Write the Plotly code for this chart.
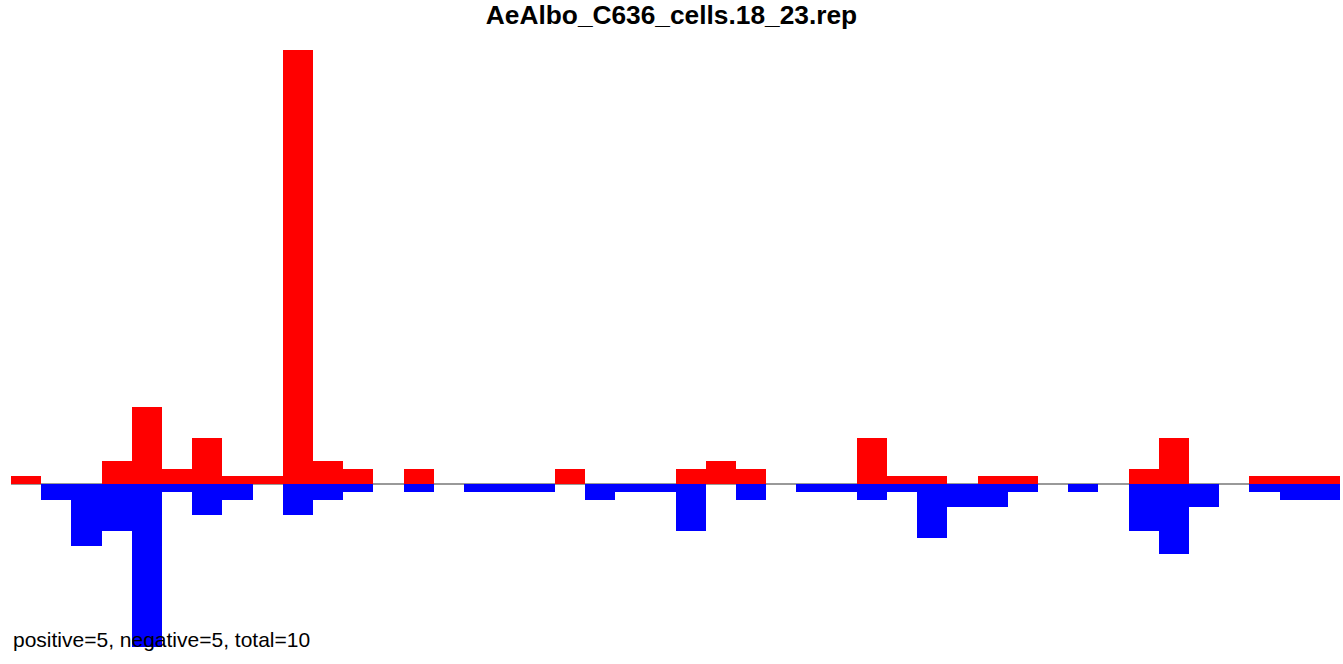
import plotly.graph_objects as go

title_text = "AeAlbo_C636_cells.18_23.rep"
footer_text = "positive=5, negative=5, total=10"

positions = list(range(44))
positive = [1, 0, 0, 3, 10, 2, 6, 1, 1, 56, 3, 2, 0, 2, 0, 0, 0, 0, 2, 0, 0, 0,
            2, 3, 2, 0, 0, 0, 6, 1, 1, 0, 1, 1, 0, 0, 0, 2, 6, 0, 0, 1, 1, 1]
negative = [0, 2, 8, 6, 21, 1, 4, 2, 0, 4, 2, 1, 0, 1, 0, 1, 1, 1, 0, 2, 1, 1,
            6, 0, 2, 0, 1, 1, 2, 1, 7, 3, 3, 1, 0, 1, 0, 6, 9, 3, 0, 1, 2, 2]

fig = go.Figure()
fig.add_trace(go.Bar(x=positions, y=positive, marker=dict(color="#ff0000", line=dict(width=0)),
                     width=1, hoverinfo="skip"))
fig.add_trace(go.Bar(x=positions, y=[-v for v in negative],
                     marker=dict(color="#0000ff", line=dict(width=0)),
                     width=1, hoverinfo="skip"))

FONT = "Liberation Sans, Arial, sans-serif"
fig.update_layout(
    width=1343, height=664,
    barmode="overlay", bargap=0,
    showlegend=False,
    plot_bgcolor="white", paper_bgcolor="white",
    margin=dict(l=11, r=3, t=40, b=4),
    xaxis=dict(range=[-0.5, 43.5], visible=False, fixedrange=True),
    yaxis=dict(range=[-22.71, 57.29], showgrid=False, showticklabels=False, ticks="",
               zeroline=True, zerolinecolor="#999999", zerolinewidth=1.5,
               showline=False, fixedrange=True),
    title=dict(text=f"<b>{title_text}</b>", x=0.5, xanchor="center",
               y=1 - 14.5 / 664, yanchor="middle", yref="container",
               font=dict(family=FONT, size=26.3, color="black")),
    annotations=[dict(text=footer_text, xref="paper", yref="paper", x=0, y=0.0327,
                      xanchor="left", yanchor="middle", showarrow=False,
                      font=dict(family=FONT, size=21, color="black"))],
)
fig.write_html("out.html", config={"displayModeBar": False},
               post_script="document.body.style.margin='0';document.body.style.overflow='hidden';")
